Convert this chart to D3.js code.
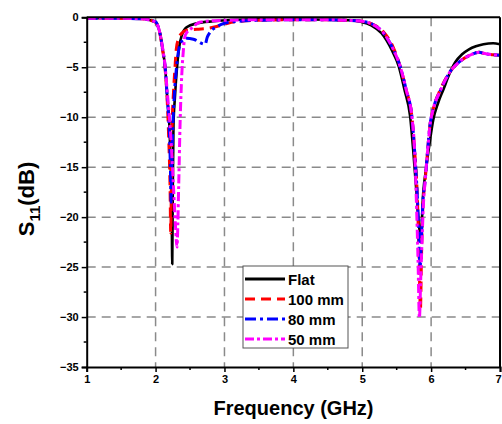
<!DOCTYPE html>
<html><head><meta charset="utf-8">
<script src="https://cdn.jsdelivr.net/npm/d3@7"></script>
<style>body{margin:0;background:#fff}svg text{font-family:Arial,"Liberation Sans",sans-serif;font-weight:bold}</style>
</head><body>
<svg id="c" width="502" height="424"></svg>
<script>
const xTicks = [1,2,3,4,5,6,7];
const yTicks = [0,-5,-10,-15,-20,-25,-30,-35];
const seriesNames = ["Flat","100 mm","80 mm","50 mm"];

const freqFlat = [1.0,1.5,1.8,1.9,1.95,2.0,2.04,2.07,2.1,2.14,2.17,2.2,2.22,2.235,2.242,2.25,2.26,2.28,2.31,2.34,2.38,2.45,2.6,2.84,3.08,3.5,4.0,4.5,4.8,4.98,5.13,5.28,5.43,5.53,5.615,5.695,5.74,5.785,5.85,5.885,5.93,5.98,6.03,6.1,6.18,6.27,6.35,6.45,6.55,6.65,6.76,6.9,7.0];
const s11Flat  = [-0.1,-0.1,-0.15,-0.25,-0.35,-0.45,-1.0,-1.8,-3.1,-5.1,-8.1,-10.8,-15,-20,-24.7,-17,-10.8,-8.1,-5.1,-3.1,-1.8,-1.0,-0.6,-0.4,-0.27,-0.2,-0.2,-0.25,-0.3,-0.45,-0.8,-1.6,-3.3,-4.9,-7.3,-9.9,-13.3,-17.3,-22,-17.6,-15,-12.5,-10.3,-8.6,-7.2,-5.6,-4.5,-3.7,-3.2,-2.9,-2.7,-2.6,-2.7];

const freq100 = [1.0,1.5,1.8,1.9,1.95,2.0,2.04,2.07,2.1,2.14,2.17,2.19,2.21,2.22,2.23,2.24,2.26,2.28,2.3,2.33,2.38,2.45,2.6,2.77,2.9,3.0,3.15,3.5,4.0,4.5,4.8,5.0,5.15,5.3,5.45,5.55,5.64,5.72,5.76,5.8,5.825,5.845,5.86,5.88,5.91,5.95,5.98,6.03,6.13,6.27,6.42,6.56,6.7,6.76,6.9,7.0];
const s11100  = [-0.1,-0.1,-0.15,-0.25,-0.35,-0.5,-1.0,-1.9,-3.2,-5.3,-8.5,-12,-17,-21.6,-16,-11,-7.5,-5.2,-3.2,-2.2,-1.6,-1.3,-1.2,-1.1,-0.9,-0.7,-0.45,-0.3,-0.25,-0.25,-0.3,-0.4,-0.7,-1.4,-3.0,-4.9,-7.3,-9.9,-13.3,-18,-24,-29.3,-24,-19,-16.6,-13.3,-11,-9.2,-7.3,-5.5,-4.4,-3.8,-3.5,-3.6,-3.75,-3.8];

const freq80 = [1.0,1.5,1.8,1.9,1.95,2.0,2.04,2.07,2.1,2.14,2.17,2.2,2.215,2.225,2.235,2.25,2.27,2.3,2.33,2.37,2.45,2.55,2.72,2.75,2.79,2.9,3.0,3.2,3.5,4.0,4.5,4.8,5.0,5.15,5.3,5.45,5.55,5.64,5.72,5.76,5.8,5.82,5.84,5.86,5.88,5.91,5.95,5.98,6.03,6.13,6.27,6.42,6.56,6.7,6.76,6.9,7.0];
const s1180  = [-0.1,-0.1,-0.15,-0.25,-0.35,-0.45,-1.0,-1.8,-3.1,-5.1,-8.1,-11.5,-15,-18.5,-15,-11,-8,-5.3,-3.5,-2.5,-2.1,-2.2,-2.7,-2.0,-1.5,-0.9,-0.6,-0.4,-0.3,-0.25,-0.25,-0.3,-0.4,-0.7,-1.5,-3.2,-4.9,-7.3,-9.9,-13.3,-18,-21.5,-25,-22,-18.5,-16.6,-13.3,-11,-9.2,-7.4,-5.5,-4.4,-3.8,-3.5,-3.6,-3.75,-3.8];

const freq50 = [1.0,1.5,1.8,1.9,1.95,2.0,2.04,2.07,2.1,2.14,2.17,2.2,2.23,2.26,2.29,2.31,2.335,2.355,2.38,2.4,2.43,2.52,2.64,2.8,3.0,3.5,4.0,4.5,4.8,5.0,5.15,5.3,5.45,5.55,5.64,5.72,5.76,5.79,5.81,5.83,5.85,5.87,5.89,5.91,5.95,5.98,6.03,6.13,6.27,6.42,6.56,6.7,6.76,6.9,7.0];
const s1150  = [-0.1,-0.1,-0.15,-0.25,-0.35,-0.5,-1.0,-1.8,-3.0,-5.0,-7.5,-10,-13,-17,-21,-23,-17,-10.8,-5.8,-3.6,-1.8,-1.1,-0.5,-0.35,-0.3,-0.25,-0.25,-0.25,-0.3,-0.4,-0.7,-1.5,-3.2,-4.9,-7.3,-9.9,-13.3,-19.3,-24.3,-30.1,-26,-22,-18.5,-16.6,-13.3,-11,-9.2,-7.4,-5.5,-4.4,-3.8,-3.5,-3.6,-3.75,-3.8];

const series = [
  {name: seriesNames[0], f: freqFlat, v: s11Flat, color: "#000000", dash: null},
  {name: seriesNames[1], f: freq100, v: s11100, color: "#ff0000", dash: "10,6"},
  {name: seriesNames[2], f: freq80, v: s1180, color: "#0000ff", dash: "11,4,3,4"},
  {name: seriesNames[3], f: freq50, v: s1150, color: "#ff00ff", dash: "9,3,3,3"}
];

const svg = d3.select("#c");
const L = 86.7, R = 500, T = 17.3, B = 367;
const x = d3.scaleLinear().domain([1,7]).range([L,R]);
const y = d3.scaleLinear().domain([-35,0]).range([B,T]);

// grid
const grid = svg.append("g").attr("stroke","#8a8a8a").attr("stroke-width",1.5).attr("stroke-dasharray","9,6");
grid.selectAll("line.gx").data(xTicks.slice(1,-1)).enter().append("line")
  .attr("x1",d=>x(d)).attr("x2",d=>x(d)).attr("y1",T).attr("y2",B);
grid.selectAll("line.gy").data(yTicks.slice(1,-1)).enter().append("line")
  .attr("x1",L).attr("x2",R).attr("y1",d=>y(d)).attr("y2",d=>y(d));

// curves
svg.append("defs").append("clipPath").attr("id","clip").append("rect")
  .attr("x",L).attr("y",T).attr("width",R-L).attr("height",B-T);
const line = d3.line().x(d=>x(d[0])).y(d=>y(d[1])).curve(d3.curveMonotoneX);
const cg = svg.append("g").attr("clip-path","url(#clip)");
series.forEach(s=>{
  const pts = s.f.map((f,i)=>[f,s.v[i]]);
  cg.append("path").datum(pts).attr("d",line).attr("fill","none")
    .attr("stroke",s.color).attr("stroke-width",s.dash?3:2.6)
    .attr("stroke-dasharray",s.dash).attr("stroke-linejoin","round");
});

// axes
const xAxis = d3.axisBottom(x).tickValues(xTicks).tickFormat(d3.format("d")).tickSize(5).tickPadding(3);
const yAxis = d3.axisLeft(y).tickValues(yTicks).tickFormat(d=>d===0?"0":d3.format("d")(d)).tickSize(5).tickPadding(3);
const gx = svg.append("g").attr("transform",`translate(0,${B})`).call(xAxis);
const gy = svg.append("g").attr("transform",`translate(${L},0)`).call(yAxis);
[gx,gy].forEach(g=>{
  g.select(".domain").attr("stroke","#000").attr("stroke-width",2);
  g.selectAll(".tick line").attr("stroke","#000").attr("stroke-width",1.5);
  g.selectAll(".tick text").attr("font-size",11).attr("font-weight","bold").attr("fill","#000")
    .attr("font-family","Arial, 'Liberation Sans', sans-serif");
});
gx.selectAll(".tick text").filter(d=>d===7).attr("dx",-2);
// minor ticks
const xMinor = d3.range(1.5,7,1);
const yMinor = d3.range(-32.5,0,5);
svg.append("g").selectAll("line").data(xMinor).enter().append("line")
  .attr("x1",d=>x(d)).attr("x2",d=>x(d)).attr("y1",B).attr("y2",B+3).attr("stroke","#000").attr("stroke-width",1.5);
svg.append("g").selectAll("line").data(yMinor).enter().append("line")
  .attr("x1",L-3).attr("x2",L).attr("y1",d=>y(d)).attr("y2",d=>y(d)).attr("stroke","#000").attr("stroke-width",1.5);
// top / right frame
svg.append("line").attr("x1",L).attr("x2",R).attr("y1",T).attr("y2",T).attr("stroke","#000").attr("stroke-width",2);
svg.append("line").attr("x1",R).attr("x2",R).attr("y1",T).attr("y2",B).attr("stroke","#000").attr("stroke-width",2);

// titles
svg.append("text").attr("x",293.5).attr("y",415).attr("text-anchor","middle")
  .attr("font-size",20).text("Frequency (GHz)");
const yt = svg.append("text").attr("transform",`translate(34,199) rotate(-90)`).attr("text-anchor","middle").attr("font-size",22);
yt.append("tspan").text("S");
yt.append("tspan").attr("font-size",15).attr("dy",6).text("11");
yt.append("tspan").attr("dy",-6).text("(dB)");

// legend
const lg = svg.append("g");
lg.append("rect").attr("x",243).attr("y",266).attr("width",105).attr("height",82)
  .attr("fill","#fff").attr("stroke","#555").attr("stroke-width",1);
series.forEach((s,i)=>{
  const cy = 279 + i*20;
  lg.append("line").attr("x1",245).attr("x2",285).attr("y1",cy).attr("y2",cy)
    .attr("stroke",s.color).attr("stroke-width",3).attr("stroke-dasharray",s.dash);
  lg.append("text").attr("x",288).attr("y",cy+5.5).attr("font-size",15).text(s.name);
});
</script>
</body></html>
